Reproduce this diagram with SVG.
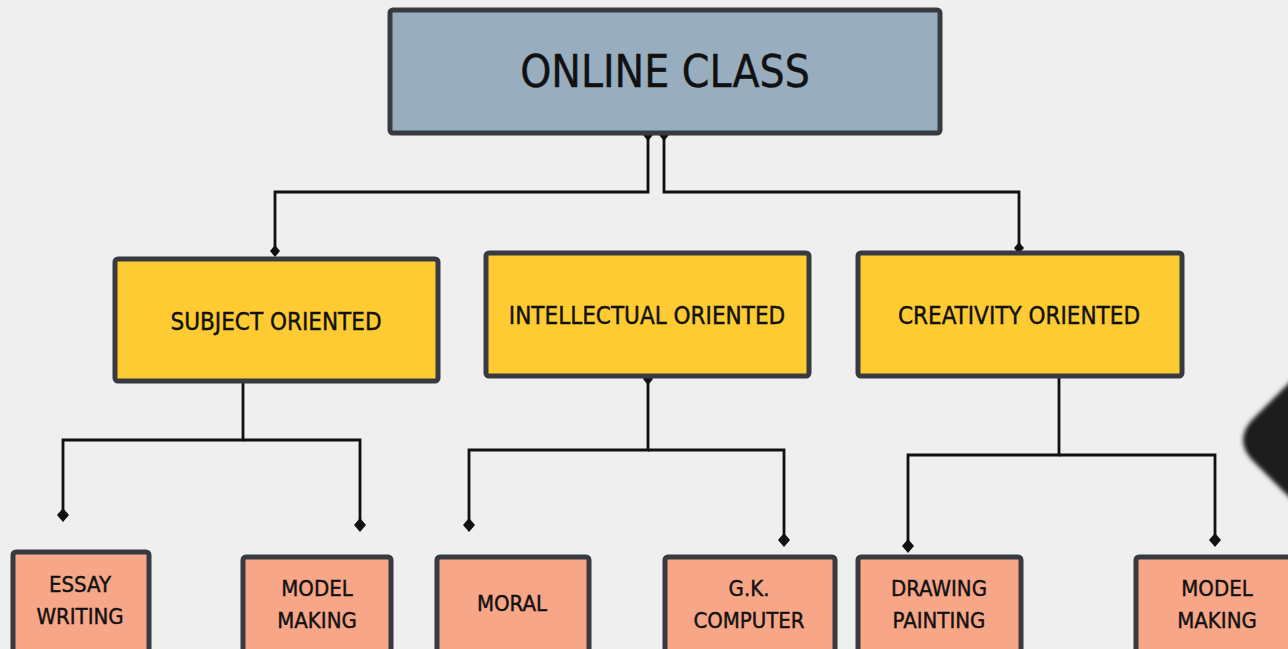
<svg xmlns="http://www.w3.org/2000/svg" width="1288" height="649" viewBox="0 0 1288 649">
<defs>
<style>
.box{stroke:#383a42;stroke-width:5;}
.root{fill:#98aebf;}
.mid{fill:#fecb32;}
.leaf{fill:#f7a688;}
.t{font-family:"Liberation Sans Narrow","DejaVu Sans Condensed","Liberation Sans",sans-serif;fill:#111;text-anchor:middle;stroke:#111;stroke-width:0.4;}
.conn{fill:none;stroke:#111;stroke-width:2.8;}
</style>
<marker id="dia" viewBox="-7 -7 14 14" markerWidth="14" markerHeight="14" markerUnits="userSpaceOnUse" orient="auto">
<path d="M-7,0 L0,-6 L7,0 L0,6 Z" fill="#111"/>
</marker>
<marker id="dsm" viewBox="-6 -6 12 12" markerWidth="12" markerHeight="12" markerUnits="userSpaceOnUse" orient="auto">
<path d="M-6,0 L0,-5 L6,0 L0,5 Z" fill="#111"/>
</marker>
<filter id="blur" x="-20%" y="-20%" width="140%" height="140%"><feGaussianBlur stdDeviation="2"/></filter>
</defs>
<rect width="1288" height="649" fill="#efefef"/>
<path d="M1300,372 L1252,420 Q1234,440 1252,460 L1300,508 Z" fill="#1f1f1f" filter="url(#blur)"/>

<g id="connectors">
<path class="conn" d="M648,135 V192 H275 V251" marker-start="url(#dsm)" marker-end="url(#dsm)"/>
<path class="conn" d="M664,135 V192 H1019 V248" marker-start="url(#dsm)" marker-end="url(#dsm)"/>
<path class="conn" d="M243,383 V440 H63 V515" marker-end="url(#dia)"/>
<path class="conn" d="M243,440 H360 V525" marker-end="url(#dia)"/>
<path class="conn" d="M648,379 V450 H469 V525" marker-start="url(#dsm)" marker-end="url(#dia)"/>
<path class="conn" d="M648,450 H784 V540" marker-end="url(#dia)"/>
<path class="conn" d="M1059,378 V455 H908 V546" marker-end="url(#dia)"/>
<path class="conn" d="M1059,455 H1215 V540" marker-end="url(#dia)"/>
</g>

<g id="online-class">
<rect class="box root" x="390" y="10" width="550" height="123" rx="3"/>
<text class="t" x="665" y="87" font-size="44">ONLINE CLASS</text>
</g>
<g id="subject-oriented">
<rect class="box mid" x="115" y="259" width="323" height="122" rx="3"/>
<text class="t" x="276" y="330" font-size="24">SUBJECT ORIENTED</text>
</g>
<g id="intellectual-oriented">
<rect class="box mid" x="486" y="253" width="323" height="123" rx="3"/>
<text class="t" x="647" y="324" font-size="24">INTELLECTUAL ORIENTED</text>
</g>
<g id="creativity-oriented">
<rect class="box mid" x="858" y="253" width="324" height="123" rx="3"/>
<text class="t" x="1019" y="324" font-size="24">CREATIVITY ORIENTED</text>
</g>
<g id="essay-writing">
<rect class="box leaf" x="13" y="552" width="136" height="105" rx="3"/>
<text class="t" x="80" y="592" font-size="22">ESSAY</text>
<text class="t" x="80" y="624" font-size="22">WRITING</text>
</g>
<g id="model-making-1">
<rect class="box leaf" x="243" y="557" width="148" height="100" rx="3"/>
<text class="t" x="317" y="596" font-size="22">MODEL</text>
<text class="t" x="317" y="628" font-size="22">MAKING</text>
</g>
<g id="moral">
<rect class="box leaf" x="437" y="557" width="152" height="100" rx="3"/>
<text class="t" x="512" y="611" font-size="22">MORAL</text>
</g>
<g id="gk-computer">
<rect class="box leaf" x="665" y="557" width="170" height="100" rx="3"/>
<text class="t" x="749" y="596" font-size="22">G.K.</text>
<text class="t" x="749" y="628" font-size="22">COMPUTER</text>
</g>
<g id="drawing-painting">
<rect class="box leaf" x="858" y="557" width="163" height="100" rx="3"/>
<text class="t" x="939" y="596" font-size="22">DRAWING</text>
<text class="t" x="939" y="628" font-size="22">PAINTING</text>
</g>
<g id="model-making-2">
<rect class="box leaf" x="1136" y="557" width="160" height="100" rx="3"/>
<text class="t" x="1217" y="596" font-size="22">MODEL</text>
<text class="t" x="1217" y="628" font-size="22">MAKING</text>
</g>
</svg>
